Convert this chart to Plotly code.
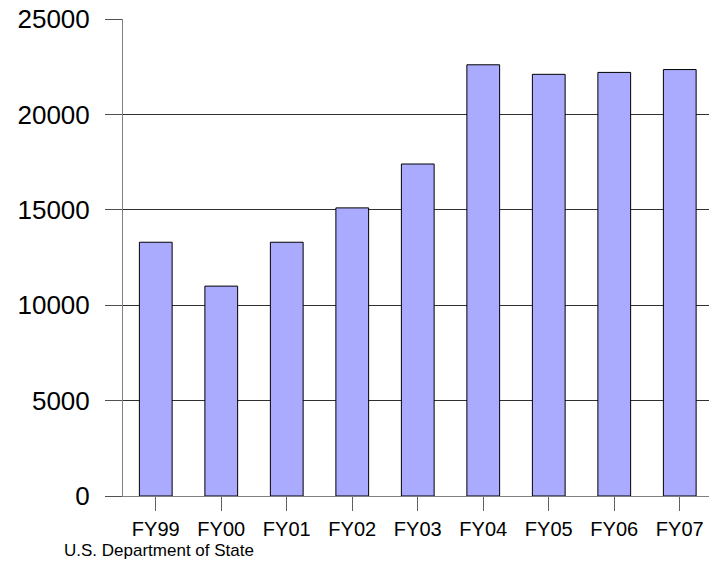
import plotly.graph_objects as go

categories = ["FY99", "FY00", "FY01", "FY02", "FY03", "FY04", "FY05", "FY06", "FY07"]
values = [13300, 11000, 13300, 15100, 17400, 22600, 22100, 22200, 22350]
y_ticks = [0, 5000, 10000, 15000, 20000, 25000]
source_text = "U.S. Department of State"

W, H = 709, 566
ml, mr, mt, mb = 123, 0, 19, 70
pw = W - ml - mr
ph = H - mt - mb
cat_px = 65.5
right = -0.5 + pw / cat_px

font = "Arial, Liberation Sans, sans-serif"

fig = go.Figure(go.Bar(
    x=categories, y=values, width=0.5,
    marker=dict(color="#AAAAFF", line=dict(color="#000000", width=1)),
))

fig.update_layout(
    width=W, height=H,
    margin=dict(l=ml, r=mr, t=mt, b=mb, pad=0),
    paper_bgcolor="white", plot_bgcolor="white",
    showlegend=False,
    font=dict(family=font, color="black"),
    xaxis=dict(
        type="category", range=[-0.5, right],
        showline=True, linecolor="#808080", linewidth=1,
        ticks="outside", ticklen=14, tickcolor="#606060", tickwidth=1,
        tickfont=dict(size=20, family=font, color="black"),
        ticklabelstandoff=1, ticklabeloverflow="allow",
        showgrid=False, zeroline=False, fixedrange=True,
    ),
    yaxis=dict(
        range=[0, 25000], tickvals=y_ticks,
        ticktext=[str(v) for v in y_ticks],
        showline=True, linecolor="#808080", linewidth=1,
        ticks="outside", ticklen=17, tickcolor="#505050", tickwidth=1,
        tickfont=dict(size=26, family=font, color="black"),
        ticklabelstandoff=10, ticklabeloverflow="allow",
        showgrid=True, gridcolor="#303030", gridwidth=1,
        zeroline=False, fixedrange=True,
    ),
    annotations=[dict(
        text=source_text, xref="paper", yref="paper",
        x=(62 - ml) / pw, y=(mt + ph - 550) / ph,
        xanchor="left", yanchor="middle", showarrow=False,
        font=dict(size=17, family=font, color="black"),
    )],
)

fig.write_html(
    "out.html",
    config={"displayModeBar": False},
    post_script="document.body.style.margin='0px';document.body.style.overflow='hidden';",
)
